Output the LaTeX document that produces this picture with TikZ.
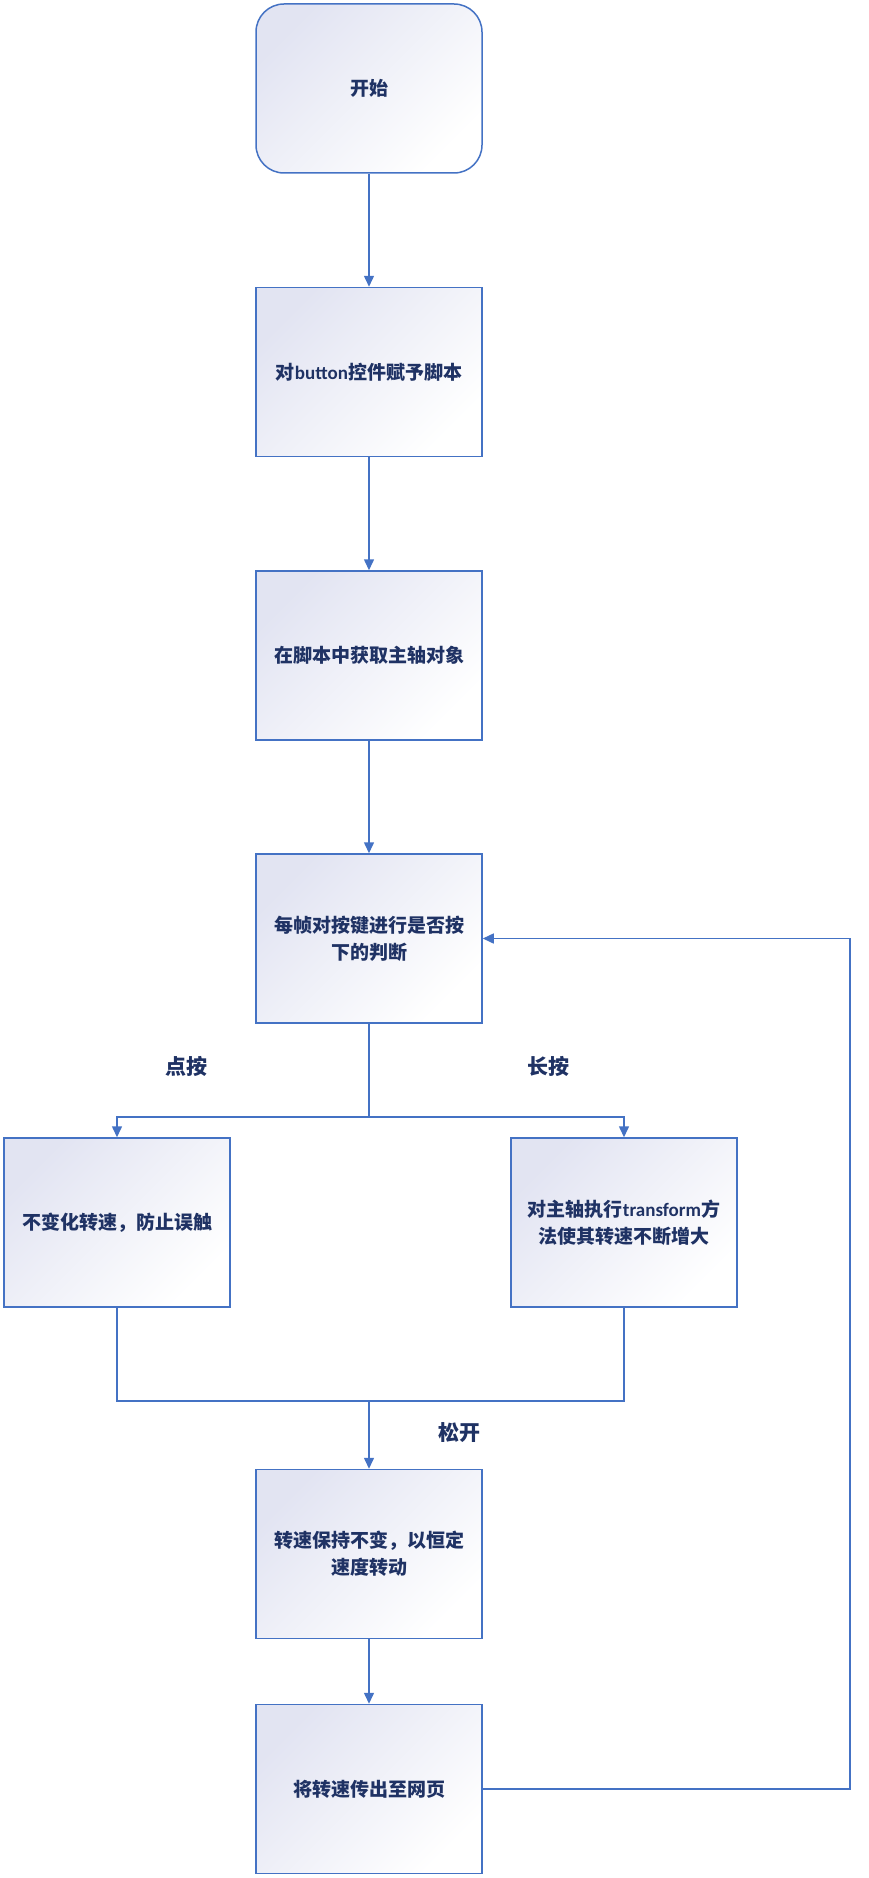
\documentclass[tikz,border=0pt]{standalone}
\usepackage{fontspec}
\usetikzlibrary{arrows.meta}
\newfontfamily\cjk{Noto Sans CJK SC}
\newfontfamily\lat{Carlito}
\definecolor{lineblue}{RGB}{68,114,196}
\definecolor{txtnavy}{RGB}{31,50,100}
\definecolor{lav}{RGB}{226,228,242}
\tikzset{
  box/.style={draw=lineblue, line width=1.5pt, minimum width=226pt, minimum height=169pt,
    top color=lav, middle color=white!60!lav, bottom color=white, shading angle=45, text=txtnavy,
    font=\cjk\bfseries\fontsize{19}{27}\selectfont, align=center, inner sep=2pt},
  conn/.style={draw=lineblue, line width=1.5pt},
  arr/.style={conn, -{Triangle[length=11pt,width=10pt]}},
  lbl/.style={text=txtnavy, font=\cjk\bfseries\fontsize{21}{25}\selectfont}
}
\begin{document}
\begin{tikzpicture}[x=1pt,y=-1pt]
\useasboundingbox (0,0) rectangle (868,1878);
\node[box, rounded corners=28pt] (start) at (369,88.5) {开始};
\node[box] (b2) at (369,372) {对{\lat\bfseries button}控件赋予脚本};
\node[box] (b3) at (369,655.5) {在脚本中获取主轴对象};
\node[box] (b4) at (369,938.5) {每帧对按键进行是否按\\下的判断};
\node[box] (left) at (117,1222.5) {不变化转速，防止误触};
\node[box] (right) at (624,1222.5) {对主轴执行{\lat\bfseries transform}方\\法使其转速不断增大};
\node[box] (b6) at (369,1554) {转速保持不变，以恒定\\速度转动};
\node[box] (b7) at (369,1789) {将转速传出至网页};
\node[lbl] (l1) at (186,1066) {点按};
\node[lbl] (l2) at (548,1066) {长按};
\node[lbl] (l3) at (459,1433) {松开};
\coordinate (split) at (369,1117);
\coordinate (merge) at (369,1401);
\coordinate (loop) at (850,1789);
\draw[arr] (start) -- (b2);
\draw[arr] (b2) -- (b3);
\draw[arr] (b3) -- (b4);
\draw[conn] (b4) -- (split);
\draw[arr] (split) -| (left);
\draw[arr] (split) -| (right);
\draw[conn] (left) |- (merge);
\draw[conn] (right) |- (merge);
\draw[arr] (merge) -- (b6);
\draw[arr] (b6) -- (b7);
\draw[arr] (b7) -- (loop) |- (b4);
\end{tikzpicture}
\end{document}
